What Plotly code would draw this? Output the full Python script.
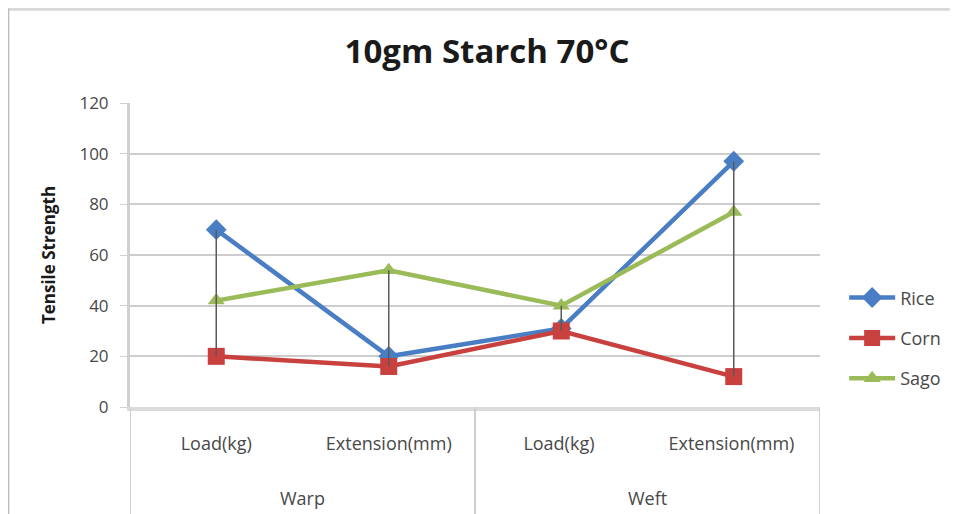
import plotly.graph_objects as go

# Données
categories = ['Load(kg)', 'Extension(mm)', 'Load(kg) ', 'Extension(mm) ']
groups = ['Warp', 'Weft']
rice = [70, 20, 31, 97]
corn = [20, 16, 30, 12]
sago = [42, 54, 40, 77]

series = [
    ('Rice', rice, '#4A7EC4', 'diamond', 16),
    ('Corn', corn, '#C8413F', 'square', 17),
    ('Sago', sago, '#9BBB59', 'triangle-up', 15),
]

FONT = 'Open Sans, sans-serif'
GRID = '#cdcdcd'
TXT = '#484848'

fig = go.Figure()
for name, vals, color, sym, size in series:
    fig.add_trace(go.Scatter(
        x=categories, y=vals, mode='lines+markers', name=name,
        line=dict(color=color, width=4.5),
        marker=dict(symbol=sym, size=size, color=color),
        legendgroup=name,
    ))

# Lignes haut-bas (max -> min pour chaque catégorie)
hl_x, hl_y = [], []
for k, c in enumerate(categories):
    vals = [rice[k], corn[k], sago[k]]
    hl_x += [c, c, None]
    hl_y += [max(vals), min(vals), None]
fig.add_trace(go.Scatter(x=hl_x, y=hl_y, mode='lines', showlegend=False,
                         line=dict(color='#5a5a5a', width=1.5), hoverinfo='skip'))

# Séparateurs du double axe des catégories
for xv in [-0.5, 1.5, 3.5]:
    fig.add_shape(type='line', xref='x', yref='paper', x0=xv, x1=xv, y0=0, y1=-0.4,
                  line=dict(color='#cfcfcf', width=2))
for j, g in enumerate(groups):
    fig.add_annotation(x=0.5 + 2 * j, y=-0.346, xref='x', yref='paper', text=g,
                       showarrow=False, font=dict(family=FONT, size=18, color=TXT))

# Cadre extérieur
fig.add_shape(type='line', xref='paper', yref='paper', x0=-0.177, x1=1.25, y0=1.31, y1=1.31,
              line=dict(color='#d9d9d9', width=4))
fig.add_shape(type='line', xref='paper', yref='paper', x0=-0.177, x1=-0.177, y0=1.31, y1=-0.4,
              line=dict(color='#bdbdbd', width=3))

fig.update_layout(
    width=958, height=514,
    margin=dict(l=122, r=146, t=95, b=115),
    paper_bgcolor='white', plot_bgcolor='white',
    font=dict(family=FONT, size=16, color=TXT),
    title=dict(text='<b>10gm Starch 70°C</b>', x=0.5, xanchor='center', y=0.915, yanchor='middle',
               font=dict(family=FONT, size=33, color='#1a1a1a')),
    legend=dict(x=1.035, xanchor='left', y=0.42, yanchor='top', tracegroupgap=14,
                itemwidth=46,
                font=dict(family=FONT, size=18, color=TXT), bgcolor='rgba(0,0,0,0)'),
    showlegend=True,
)
fig.update_xaxes(type='category', range=[-0.5, 3.5], showgrid=False,
                 showline=True, linecolor='#dcdcdc', linewidth=4,
                 ticks='outside', ticklen=17, tickcolor='rgba(0,0,0,0)',
                 tickfont=dict(family=FONT, size=18, color=TXT))
fig.update_yaxes(range=[0, 120], dtick=20, showgrid=True, gridcolor=GRID, gridwidth=2,
                 zeroline=False, showline=True, linecolor='#d0d0d0', linewidth=3,
                 ticks='outside', ticklen=7, tickcolor='#d0d0d0', ticklabelstandoff=8,
                 tickfont=dict(family=FONT, size=17, color=TXT),
                 title=dict(text='<b>Tensile Strength</b>', standoff=20,
                            font=dict(family=FONT, size=17, color='#1a1a1a')))

fig.write_html('out.html')
